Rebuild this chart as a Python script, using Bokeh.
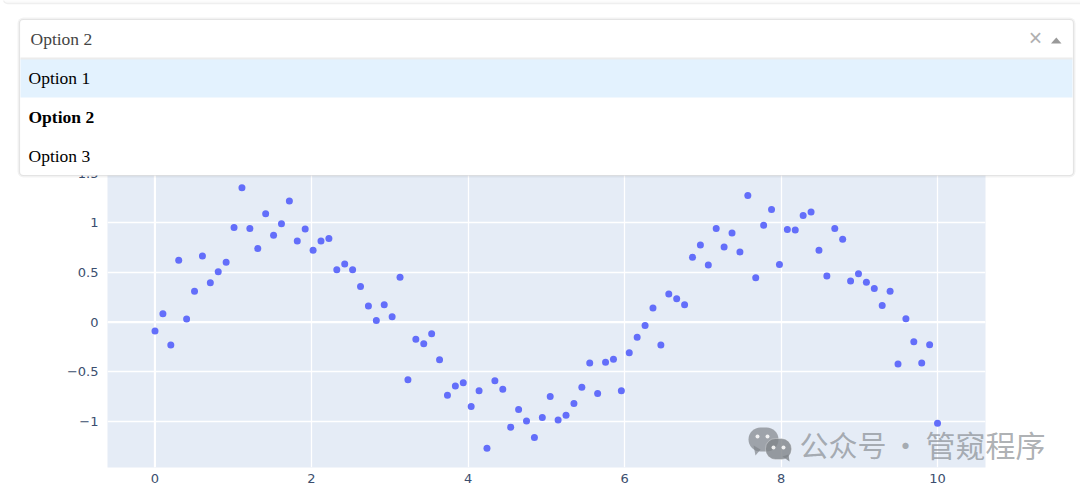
from bokeh.plotting import figure
from bokeh.models import (Range1d, FixedTicker, Span, Label, BoxAnnotation, PolyAnnotation)
from bokeh.embed import file_html
from bokeh.resources import INLINE

x_values = [i * 10 / 99 for i in range(100)]
y_values = [-0.09, 0.084, -0.232, 0.623, 0.03, 0.31, 0.667, 0.397, 0.508, 0.603,
            0.953, 1.354, 0.943, 0.741, 1.094, 0.875, 0.993, 1.222, 0.818, 0.939,
            0.724, 0.818, 0.842, 0.529, 0.586, 0.529, 0.36, 0.162, 0.017, 0.175,
            0.054, 0.451, -0.582, -0.172, -0.219, -0.118, -0.38, -0.737, -0.646, -0.613,
            -0.852, -0.694, -1.273, -0.593, -0.677, -1.061, -0.882, -0.997, -1.165, -0.963,
            -0.751, -0.987, -0.939, -0.822, -0.657, -0.414, -0.721, -0.404, -0.374, -0.694,
            -0.31, -0.152, -0.034, 0.141, -0.232, 0.283, 0.236, 0.175, 0.653, 0.778,
            0.576, 0.943, 0.758, 0.899, 0.707, 1.276, 0.448, 0.976, 1.135, 0.582,
            0.933, 0.929, 1.074, 1.111, 0.724, 0.465, 0.943, 0.835, 0.414, 0.488,
            0.401, 0.34, 0.168, 0.31, -0.424, 0.034, -0.199, -0.414, -0.229, -1.02]
x_ticks = [0, 2, 4, 6, 8, 10]
y_ticks = [-1, -0.5, 0, 0.5, 1, 1.5]
y_tick_labels = {-1: "\u22121", -0.5: "\u22120.5", 0: "0", 0.5: "0.5", 1: "1", 1.5: "1.5"}
options = ["Option 1", "Option 2", "Option 3"]
selected = "Option 2"

TICK = "#3b4e6e"
W, H = 1080, 489
p = figure(width=W, height=H, output_backend="svg", toolbar_location=None,
           x_range=Range1d(-0.607, 10.613), y_range=Range1d(-1.467, 1.63),
           min_border_left=107, min_border_right=95, min_border_top=160, min_border_bottom=22,
           background_fill_color="#e5ecf6", border_fill_color="white", outline_line_color=None)
p.styles = {"position": "absolute", "left": "0px", "top": "0px"}

for ax, ticks in ((p.xaxis[0], x_ticks), (p.yaxis[0], y_ticks)):
    ax.ticker = FixedTicker(ticks=ticks)
    ax.axis_line_color = None
    ax.major_tick_line_color = None
    ax.minor_tick_line_color = None
    ax.major_label_text_color = TICK
    ax.major_label_text_font = "DejaVu Sans"
    ax.major_label_text_font_size = "13px"
p.xaxis[0].major_label_standoff = 0
p.yaxis[0].major_label_standoff = 3
p.yaxis[0].major_label_overrides = y_tick_labels

p.grid.grid_line_color = "white"
p.grid.grid_line_width = 1.3
p.xgrid[0].ticker = FixedTicker(ticks=x_ticks)
p.ygrid[0].ticker = FixedTicker(ticks=y_ticks)
p.add_layout(Span(location=0, dimension="height", line_color="white", line_width=2, level="underlay"))
p.add_layout(Span(location=0, dimension="width", line_color="white", line_width=2, level="underlay"))

p.scatter(x_values, y_values, size=7, color="#636efa", line_color=None)

# transparent full-page layer for the open dropdown and the watermark
ui = figure(width=W, height=H, output_backend="svg", toolbar_location=None,
            x_range=Range1d(0, W), y_range=Range1d(0, H), x_axis_location=None, y_axis_location=None,
            min_border=0, background_fill_color=None, border_fill_color=None, outline_line_color=None)
ui.grid.visible = False
ui.styles = {"position": "absolute", "left": "0px", "top": "0px"}


def box(l, r, t, b, **kw):
    ui.add_layout(BoxAnnotation(left=l, right=r, top=H - t, bottom=H - b, left_units="screen",
                                right_units="screen", top_units="screen", bottom_units="screen",
                                level="overlay", editable=False, **kw))


def label(x, y, text, **kw):
    ui.add_layout(Label(x=x, y=H - y, x_units="screen", y_units="screen", text=text, level="overlay", **kw))


def poly(xs, ys, **kw):
    ui.add_layout(PolyAnnotation(xs=list(xs), ys=[H - v for v in ys], xs_units="screen",
                                 ys_units="screen", level="overlay", **kw))


# page strip above
box(3, 1090, -6, 3, fill_color="#fbfbfb", fill_alpha=1, line_color="#cfcfcf", line_width=1.5, border_radius=4)
# dropdown
box(17, 1075, 17, 177, fill_color="#000000", fill_alpha=0.05, line_color=None, border_radius=6)
box(19, 1073, 19, 175, fill_color="white", fill_alpha=1, line_color="#b4b4b4", line_width=1.2, border_radius=4)
box(20, 1072, 58, 97, fill_color="#e3f2fe", fill_alpha=1, line_color=None)
box(20, 1072, 57, 59, fill_color="#ececec", fill_alpha=1, line_color=None)
SERIF = "Liberation Serif"
label(30, 38, selected, text_font=SERIF, text_font_size="17.5px", text_color="#444444", text_baseline="middle")
for opt, yy in zip(options, (77, 116, 155)):
    label(28, yy, opt, text_font=SERIF, text_font_size="17.5px", text_color="black", text_baseline="middle",
          text_font_style="bold" if opt == selected else "normal")
label(1035, 37, "\u00d7", text_font="Liberation Sans", text_font_size="23px", text_color="#b0b0b0",
      text_align="center", text_baseline="middle")
poly([1050.5, 1061, 1055.8], [43, 43, 37], fill_color="#999999", fill_alpha=1, line_color=None)

# watermark
WM = "#80848a"
box(748, 778, 427, 451, fill_color=WM, fill_alpha=0.7, line_color=None, border_radius=12)
poly([753, 760, 755], [445, 449, 455], fill_color=WM, fill_alpha=0.7, line_color=None)
box(765, 791, 438, 459, fill_color=WM, fill_alpha=0.8, line_color="white", line_width=1, border_radius=10)
poly([782, 788, 789], [456, 454, 461], fill_color=WM, fill_alpha=0.8, line_color=None)
for ex, ey, er in ((757, 436, 2), (767, 436, 2), (773, 447, 2), (783, 447, 2)):
    box(ex - er, ex + er, ey - er, ey + er, fill_color="white", fill_alpha=0.85, line_color=None, border_radius=er)
label(799, 443, "\u516c\u4f17\u53f7", text_font="Noto Sans CJK SC", text_font_size="29px", text_color=WM,
      text_alpha=0.65, text_baseline="middle")
label(905, 443, "\u00b7", text_font="Noto Sans CJK SC", text_font_size="29px", text_color=WM,
      text_alpha=0.65, text_baseline="middle", text_align="center")
label(925, 443, "\u7ba1\u7aa5\u7a0b\u5e8f", text_font="Noto Sans CJK SC", text_font_size="30px", text_color=WM,
      text_alpha=0.65, text_baseline="middle")

open("out.html", "w").write(file_html([p, ui], INLINE))
